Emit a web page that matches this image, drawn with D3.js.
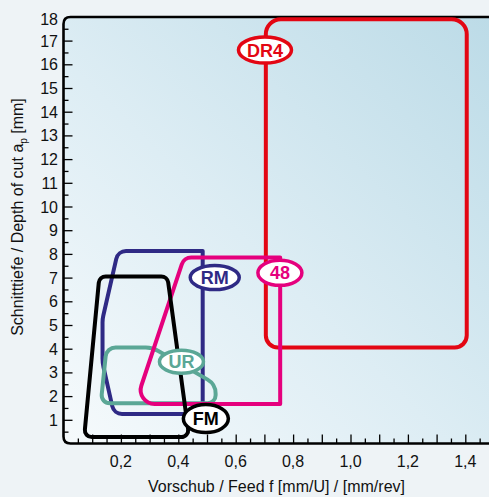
<!DOCTYPE html>
<html>
<head>
<meta charset="utf-8">
<script src="https://cdn.jsdelivr.net/npm/d3@7"></script>
<style>
  html, body { margin: 0; padding: 0; background: #eef3f6; }
  svg { display: block; }
  text { font-family: "Liberation Sans", Arial, Helvetica, sans-serif; }
</style>
</head>
<body>
<svg id="chart" width="489" height="497"></svg>
<script>
// Application ranges of insert geometries: feed f vs. depth of cut ap
const geometryNames = ["DR4", "RM", "UR", "48", "FM"];

// Outline vertices [feed f (mm/rev), depth of cut ap (mm)]
const outlineDR4 = [[0.705, 4.05], [0.705, 17.9], [1.405, 17.9], [1.405, 4.05]];
const outlineRM  = [[0.176, 1.25], [0.136, 3.4], [0.136, 5.25], [0.19, 8.12], [0.485, 8.12], [0.485, 1.25]];
const outlineUR  = [[0.13, 1.7], [0.15, 4.05], [0.31, 4.05], [0.53, 2.5], [0.53, 1.7]];
const outline48  = [[0.755, 1.67], [0.755, 7.85], [0.42, 7.85], [0.25, 1.67]];
const outlineFM  = [[0.072, 0.27], [0.125, 7.05], [0.362, 7.05], [0.438, 0.27]];

// Label anchor of each geometry [feed, depth]
const labelFeed  = [0.702, 0.527, 0.411, 0.754, 0.496];
const labelDepth = [16.6, 7.0, 3.45, 7.2, 1.05];

// Axis ticks
const xTickLabels = [0.2, 0.4, 0.6, 0.8, 1.0, 1.2, 1.4];
const yTickLabels = [1, 2, 3, 4, 5, 6, 7, 8, 9, 10, 11, 12, 13, 14, 15, 16, 17, 18];

// ---- styling ----
const colors = { DR4: "#e30613", RM: "#2f2a85", UR: "#5ba796", "48": "#e5007d", FM: "#000000" };
const cornerRadii = {
  DR4: [12, 15, 15, 12],
  RM:  [10, 40, 30, 10, 0, 0],
  UR:  [8, 10, 25, 16, 8],
  "48": [0, 0, 10, 14],
  FM:  [7, 7, 7, 7]
};
const labelSize = { DR4: [56, 29], RM: [52, 27], UR: [47, 26], "48": [47, 28], FM: [48, 31] };
const outlines = { DR4: outlineDR4, RM: outlineRM, UR: outlineUR, "48": outline48, FM: outlineFM };

const svg = d3.select("#chart");
const W = 489, H = 497;

const x = d3.scaleLinear().domain([0, 1.48]).range([63.5, 63.5 + 287 * 1.48]);
const y = d3.scaleLinear().domain([0, 18]).range([443.5, 443.5 - 23.7 * 18]);

const x0 = x(0), y0 = y(0), yTop = 17;

// background gradient of the plot area
const defs = svg.append("defs");
const grad = defs.append("linearGradient").attr("id", "plotBg")
  .attr("x1", "0%").attr("y1", "100%").attr("x2", "100%").attr("y2", "0%");
grad.append("stop").attr("offset", "0%").attr("stop-color", "#f6fafc");
grad.append("stop").attr("offset", "45%").attr("stop-color", "#ddedf4");
grad.append("stop").attr("offset", "100%").attr("stop-color", "#bcdbe7");

svg.append("path")
  .attr("d", `M${W + 2},${yTop} L${x0 + 7},${yTop} Q${x0},${yTop} ${x0},${yTop + 7} L${x0},${y0 - 7} Q${x0},${y0} ${x0 + 7},${y0} L${W + 2},${y0} Z`)
  .attr("fill", "url(#plotBg)");

// ticks pointing into the plot
const tickG = svg.append("g");
const xMajor = d3.range(1, 15).map(i => i / 10);
const xMinor = d3.range(1, 30, 2).map(i => i / 20);
const yMajor = d3.range(1, 18);
const yMinor = d3.range(1, 36, 2).map(i => i / 2);

function styleAxis(g) {
  g.select(".domain").remove();
  g.selectAll("line").attr("stroke", "#000").attr("stroke-width", 1.3);
}
tickG.append("g").attr("transform", `translate(0,${y0})`)
  .call(d3.axisBottom(x).tickValues(xMajor).tickSize(-9).tickFormat(""))
  .call(styleAxis);
tickG.append("g").attr("transform", `translate(0,${y0})`)
  .call(d3.axisBottom(x).tickValues(xMinor).tickSize(-5).tickFormat(""))
  .call(styleAxis);
tickG.append("g").attr("transform", `translate(${x0},0)`)
  .call(d3.axisLeft(y).tickValues(yMajor).tickSize(-9).tickFormat(""))
  .call(styleAxis);
tickG.append("g").attr("transform", `translate(${x0},0)`)
  .call(d3.axisLeft(y).tickValues(yMinor).tickSize(-5).tickFormat(""))
  .call(styleAxis);

// frame (left, top and bottom edges)
svg.append("path")
  .attr("d", `M${W + 2},${yTop} L${x0 + 7},${yTop} Q${x0},${yTop} ${x0},${yTop + 7} L${x0},${y0 - 7} Q${x0},${y0} ${x0 + 7},${y0} L${W + 2},${y0}`)
  .attr("fill", "none").attr("stroke", "#000").attr("stroke-width", 2.6);

// tick labels
const fmt = d => d3.format(".1f")(d).replace(".", ",");
svg.append("g").selectAll("text").data(xTickLabels).join("text")
  .attr("x", d => x(d)).attr("y", 467)
  .attr("text-anchor", "middle").attr("font-size", 16).attr("fill", "#111")
  .text(fmt);
svg.append("g").selectAll("text").data(yTickLabels).join("text")
  .attr("x", 58).attr("y", d => Math.max(y(d), 19) + 6)
  .attr("text-anchor", "end").attr("font-size", 16).attr("fill", "#111")
  .text(d => d);

// axis titles
svg.append("text")
  .attr("x", 276.5).attr("y", 492)
  .attr("text-anchor", "middle").attr("font-size", 16).attr("fill", "#111")
  .text("Vorschub / Feed f [mm/U] / [mm/rev]");

const yTitle = svg.append("text")
  .attr("transform", "translate(23,217) rotate(-90)")
  .attr("text-anchor", "middle").attr("font-size", 16).attr("fill", "#111");
yTitle.append("tspan").text("Schnitttiefe / Depth of cut a");
yTitle.append("tspan").attr("font-size", 10).attr("dy", 4).text("p");
yTitle.append("tspan").attr("dy", -4).text(" [mm]");

// rounded polygon outline via d3.path
function roundedOutline(pts, radii) {
  const p = d3.path();
  const n = pts.length;
  const a = pts[n - 1], b = pts[0];
  p.moveTo((a[0] + b[0]) / 2, (a[1] + b[1]) / 2);
  for (let i = 0; i < n; i++) {
    const cur = pts[i], nxt = pts[(i + 1) % n];
    if (radii[i] > 0) p.arcTo(cur[0], cur[1], nxt[0], nxt[1], radii[i]);
    else p.lineTo(cur[0], cur[1]);
  }
  p.closePath();
  return p.toString();
}

const outlineG = svg.append("g");
geometryNames.forEach(name => {
  const pts = outlines[name].map(([f, d]) => [x(f), y(d)]);
  outlineG.append("path")
    .attr("d", roundedOutline(pts, cornerRadii[name]))
    .attr("fill", "none")
    .attr("stroke", colors[name])
    .attr("stroke-width", 4)
    .attr("stroke-linejoin", "round");
});

// labels
const labelG = svg.append("g");
geometryNames.forEach((name, i) => {
  const cx = x(labelFeed[i]), cy = y(labelDepth[i]);
  const [w, h] = labelSize[name];
  labelG.append("ellipse")
    .attr("cx", cx).attr("cy", cy).attr("rx", w / 2 - 1.5).attr("ry", h / 2 - 1.5)
    .attr("fill", "#fff").attr("stroke", colors[name]).attr("stroke-width", 3.5);
  labelG.append("text")
    .attr("x", cx).attr("y", cy + 6.5)
    .attr("text-anchor", "middle").attr("font-size", 18).attr("font-weight", "bold")
    .attr("fill", colors[name])
    .text(name);
});
</script>
</body>
</html>
